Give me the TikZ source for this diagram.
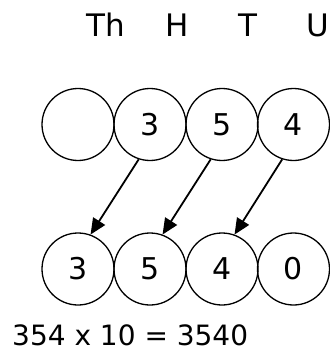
\documentclass[tikz,border=0pt]{standalone}
\usepackage{fontspec}
\setmainfont{DejaVu Sans}
\usetikzlibrary{arrows.meta}
\begin{document}
\begin{tikzpicture}[x=1pt,y=-1pt,
  digit/.style={circle,draw,line width=1.3pt,minimum size=72pt,inner sep=0pt,font=\fontsize{30}{30}\selectfont},
  head/.style={anchor=base,font=\fontsize{31}{31}\selectfont},
  move/.style={line width=1.8pt,-{Triangle[length=16pt,width=14pt]}}]
\useasboundingbox (0,0) rectangle (329,353);
\node[head] (hTh) at (106,37) {Th};
\node[head] (hH) at (177,37) {H};
\node[head] (hT) at (248,37) {T};
\node[head] (hU) at (318,37) {U};
\node[digit] (t1) at (78,124.5) {};
\node[digit] (t2) at (150,124.5) {3};
\node[digit] (t3) at (222,124.5) {5};
\node[digit] (t4) at (293.5,124.5) {4};
\node[digit] (b1) at (78,269) {3};
\node[digit] (b2) at (150,269) {5};
\node[digit] (b3) at (222,269) {4};
\node[digit] (b4) at (293.5,269) {0};
\draw[move] (t2.252) -- (b1.70);
\draw[move] (t3.252) -- (b2.70);
\draw[move] (t4.252) -- (b3.70);
\node[anchor=base west,inner sep=0pt,font=\fontsize{28}{28}\selectfont] (eq) at (12,345.5) {354 x 10 = 3540};
\end{tikzpicture}
\end{document}
